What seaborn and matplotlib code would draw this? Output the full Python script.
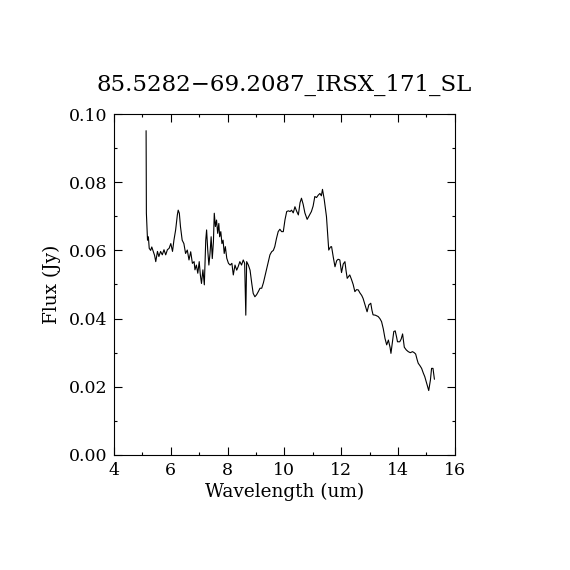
import numpy as np
import pandas as pd
import matplotlib
matplotlib.use("Agg")
import matplotlib.pyplot as plt
import seaborn as sns
from matplotlib.ticker import MultipleLocator

# spectrum
wavelength = [
    5.13, 5.14, 5.16, 5.18, 5.21, 5.24, 5.29, 5.33, 5.38, 5.43, 5.47, 5.53, 5.58, 5.64, 5.70,
    5.76, 5.82, 5.88, 5.94, 6.00, 6.06, 6.11, 6.17, 6.23, 6.26, 6.30, 6.34, 6.40, 6.46, 6.52,
    6.58, 6.64, 6.70, 6.76, 6.82, 6.85, 6.90, 6.95, 7.00, 7.04, 7.08, 7.13, 7.18, 7.23, 7.26,
    7.30, 7.34, 7.38, 7.42, 7.46, 7.50, 7.53, 7.57, 7.61, 7.65, 7.69, 7.72, 7.76, 7.80, 7.84,
    7.88, 7.92, 7.97, 8.03, 8.09, 8.15, 8.20, 8.26, 8.32, 8.37, 8.43, 8.49, 8.55, 8.60, 8.64,
    8.67, 8.73, 8.79, 8.85, 8.90, 8.96, 9.02, 9.08, 9.14, 9.20, 9.26, 9.31, 9.37, 9.43, 9.49,
    9.55, 9.61, 9.66, 9.72, 9.78, 9.84, 9.90, 9.96, 10.02, 10.08, 10.14, 10.20, 10.25, 10.31,
    10.37, 10.43, 10.49, 10.55, 10.60, 10.66, 10.72, 10.80, 10.86, 10.95, 11.01, 11.07, 11.13,
    11.19, 11.25, 11.30, 11.34, 11.40, 11.48, 11.52, 11.56, 11.62, 11.66, 11.72, 11.78, 11.84,
    11.89, 11.95, 12.01, 12.07, 12.13, 12.17, 12.21, 12.30, 12.36, 12.42, 12.48, 12.54, 12.60,
    12.66, 12.72, 12.77, 12.84, 12.91, 12.97, 13.04, 13.08, 13.12, 13.20, 13.30, 13.36, 13.42,
    13.48, 13.54, 13.60, 13.66, 13.72, 13.75, 13.80, 13.85, 13.90, 13.95, 13.98, 14.06, 14.11,
    14.16, 14.22, 14.29, 14.36, 14.43, 14.51, 14.57, 14.62, 14.67, 14.71, 14.77, 14.83, 14.89,
    14.94, 15.01, 15.08, 15.14, 15.18, 15.23, 15.28,
]
flux = [
    0.0951, 0.0709, 0.0670, 0.0630, 0.0640, 0.0606, 0.0600, 0.0610, 0.0597, 0.0585, 0.0567, 0.0597, 0.0582, 0.0597, 0.0587,
    0.0602, 0.0587, 0.0602, 0.0606, 0.0620, 0.0597, 0.0630, 0.0660, 0.0704, 0.0718, 0.0709, 0.0670, 0.0630, 0.0620, 0.0591,
    0.0601, 0.0572, 0.0596, 0.0562, 0.0567, 0.0543, 0.0557, 0.0533, 0.0567, 0.0528, 0.0503, 0.0543, 0.0499, 0.0630, 0.0660,
    0.0601, 0.0557, 0.0591, 0.0640, 0.0576, 0.0625, 0.0709, 0.0670, 0.0689, 0.0650, 0.0679, 0.0640, 0.0655, 0.0620, 0.0630,
    0.0591, 0.0611, 0.0577, 0.0562, 0.0557, 0.0562, 0.0528, 0.0557, 0.0542, 0.0552, 0.0567, 0.0557, 0.0572, 0.0562, 0.0410,
    0.0567, 0.0557, 0.0542, 0.0503, 0.0474, 0.0464, 0.0470, 0.0479, 0.0489, 0.0489, 0.0505, 0.0523, 0.0545, 0.0567, 0.0587,
    0.0596, 0.0600, 0.0611, 0.0635, 0.0655, 0.0662, 0.0655, 0.0655, 0.0690, 0.0714, 0.0716, 0.0714, 0.0718, 0.0710,
    0.0728, 0.0715, 0.0704, 0.0740, 0.0753, 0.0735, 0.0710, 0.0691, 0.0700, 0.0714, 0.0730, 0.0758, 0.0755,
    0.0762, 0.0767, 0.0760, 0.0779, 0.0750, 0.0699, 0.0650, 0.0601, 0.0610, 0.0611, 0.0580, 0.0552, 0.0570,
    0.0574, 0.0572, 0.0535, 0.0560, 0.0567, 0.0540, 0.0518, 0.0528, 0.0515, 0.0500, 0.0479, 0.0485, 0.0484,
    0.0475, 0.0468, 0.0459, 0.0440, 0.0420, 0.0440, 0.0445, 0.0425, 0.0411, 0.0410, 0.0406, 0.0400, 0.0391,
    0.0370, 0.0342, 0.0323, 0.0337, 0.0315, 0.0298, 0.0330, 0.0362, 0.0364, 0.0345, 0.0332, 0.0332, 0.0340,
    0.0355, 0.0316, 0.0308, 0.0303, 0.0300, 0.0303, 0.0300, 0.0296, 0.0280, 0.0269, 0.0262, 0.0254, 0.0240,
    0.0230, 0.0210, 0.0189, 0.0220, 0.0254, 0.0254, 0.0222,
]

df = pd.DataFrame({"wavelength": wavelength, "flux": flux})

sns.set_style("ticks")
plt.rcParams["font.family"] = ["DejaVu Serif"]
plt.rcParams["text.color"] = "black"
plt.rcParams["axes.labelcolor"] = "black"
plt.rcParams["xtick.color"] = "black"
plt.rcParams["ytick.color"] = "black"

fig = plt.figure(figsize=(5.7, 5.7), dpi=100)
ax = fig.add_axes([0.2, 0.2018, 0.598, 0.5982])

sns.lineplot(data=df, x="wavelength", y="flux", sort=False, estimator=None,
             color="black", linewidth=0.8, ax=ax)

ax.set_xlim(4, 16)
ax.set_ylim(0, 0.10)
ax.xaxis.set_major_locator(MultipleLocator(2))
ax.xaxis.set_minor_locator(MultipleLocator(1))
ax.yaxis.set_major_locator(MultipleLocator(0.02))
ax.yaxis.set_minor_locator(MultipleLocator(0.01))
ax.yaxis.set_major_formatter(matplotlib.ticker.FormatStrFormatter("%.2f"))
ax.tick_params(which="both", direction="in", top=True, right=True,
               labelsize=12.5, color="black", width=0.8)
ax.tick_params(which="major", length=6, pad=5)
ax.tick_params(which="minor", length=2.5)
for s in ax.spines.values():
    s.set_linewidth(0.8)
    s.set_color("black")

ax.set_xlabel("Wavelength (um)", fontsize=13.3, labelpad=3)
ax.set_ylabel("Flux (Jy)", fontsize=13.3, labelpad=5)
ax.set_title("85.5282\u221269.2087_IRSX_171_SL", fontsize=16.5, pad=17)

fig.savefig("out.png", dpi=100, facecolor="white")
